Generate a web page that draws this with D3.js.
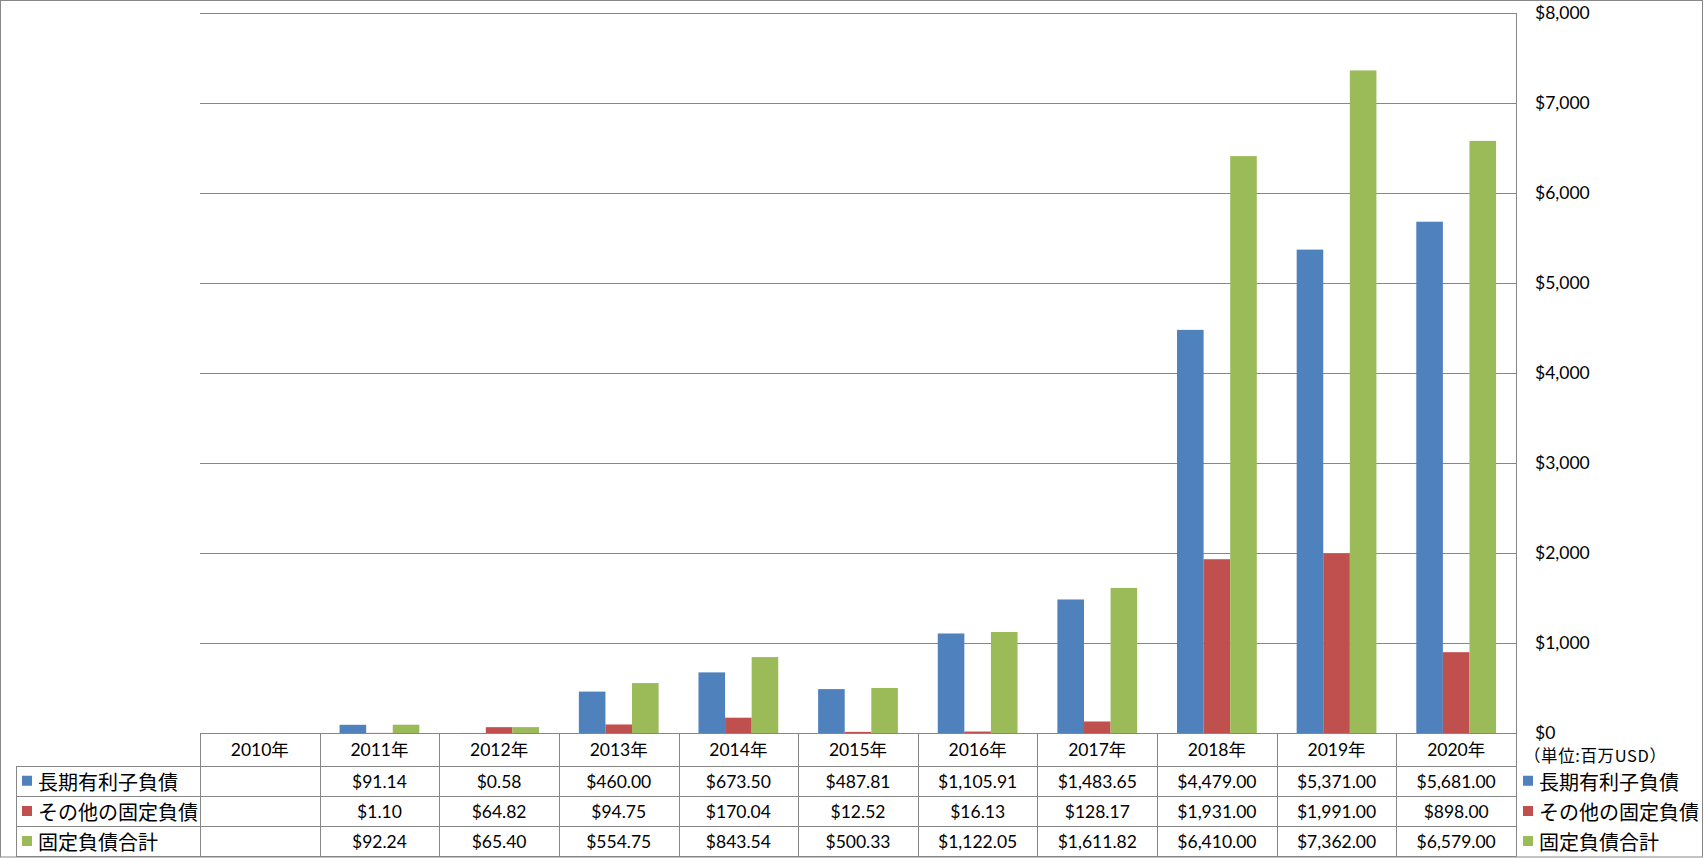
<!DOCTYPE html>
<html><head><meta charset="utf-8">
<script src="https://cdn.jsdelivr.net/npm/d3@7"></script>
<style>
html,body{margin:0;padding:0;background:#fff;}
svg{display:block;}
.num{font-family:Lato,"Noto Sans CJK JP",sans-serif;font-size:17.5px;fill:#000;}
.jp{font-family:"Noto Sans CJK JP",sans-serif;font-size:20px;fill:#000;}
</style>
</head><body>
<script>
const categories = ["2010年","2011年","2012年","2013年","2014年","2015年","2016年","2017年","2018年","2019年","2020年"];
const seriesNames = ["長期有利子負債","その他の固定負債","固定負債合計"];
const longTermDebt = [null, 91.14, 0.58, 460.00, 673.50, 487.81, 1105.91, 1483.65, 4479.00, 5371.00, 5681.00];
const otherFixed   = [null, 1.10, 64.82, 94.75, 170.04, 12.52, 16.13, 128.17, 1931.00, 1991.00, 898.00];
const totalFixed   = [null, 92.24, 65.40, 554.75, 843.54, 500.33, 1122.05, 1611.82, 6410.00, 7362.00, 6579.00];
const yTicks = [0,1000,2000,3000,4000,5000,6000,7000,8000];
const unitLabel = "（単位:百万USD）";
const colors = ["#4F81BD","#C0504D","#9BBB59"];

const series = [longTermDebt, otherFixed, totalFixed];
const W = 1704, H = 858;
const plotL = 200, plotR = 1516, plotT = 13, plotB = 733;
const rowLines = [733, 765.5, 796, 826, 856];
const gridColor = "#878787";

const svg = d3.select("body").append("svg").attr("width", W).attr("height", H);

const x = d3.scaleBand().domain(categories).range([plotL, plotR]).padding(0);
const y = d3.scaleLinear().domain([0, 8000]).range([plotB, plotT]);
const bw = x.bandwidth() / 4.5;
const xs = d3.scaleBand().domain(d3.range(3)).range([bw*0.75, x.bandwidth() - bw*0.75]).padding(0);

// outer border
svg.append("rect").attr("x",0.5).attr("y",0.5).attr("width",W-2).attr("height",H-1.5)
  .attr("fill","none").attr("stroke",gridColor).attr("stroke-width",1);

// gridlines
svg.append("g").selectAll("line").data(yTicks).join("line")
  .attr("x1", plotL).attr("x2", plotR + 0.5)
  .attr("y1", d => Math.round(y(d)) + 0.5).attr("y2", d => Math.round(y(d)) + 0.5)
  .attr("stroke", gridColor).attr("stroke-width", 1);

// bars
const flat = [];
categories.forEach((c, i) => series.forEach((s, k) => { if (s[i] != null) flat.push({c, k, v: s[i]}); }));
svg.append("g").selectAll("rect").data(flat).join("rect")
  .attr("x", d => x(d.c) + xs(d.k))
  .attr("width", xs.bandwidth())
  .attr("y", d => y(d.v))
  .attr("height", d => plotB - y(d.v))
  .attr("fill", d => colors[d.k]);

// right axis vertical line
svg.append("line").attr("x1", plotR + 0.5).attr("x2", plotR + 0.5)
  .attr("y1", plotT).attr("y2", rowLines[4] + 0.5)
  .attr("stroke", gridColor).attr("stroke-width", 1);

// right axis labels
const yAxis = d3.axisRight(y).tickValues(yTicks).tickFormat(d3.format("$,")).tickSize(0).tickPadding(19);
const ag = svg.append("g").attr("transform", `translate(${plotR},0)`).call(yAxis);
ag.select(".domain").remove();
ag.selectAll("text").attr("class","num").attr("font-family", null).attr("font-size", null).attr("fill","#000");

// table
const tg = svg.append("g");
tg.selectAll("line.h").data(rowLines.slice(1)).join("line")
  .attr("x1", 16).attr("x2", plotR + 0.5)
  .attr("y1", d => Math.round(d) + 0.5).attr("y2", d => Math.round(d) + 0.5)
  .attr("stroke", gridColor).attr("stroke-width", 1);
const bounds = categories.map(c => x(c));
tg.selectAll("line.v").data(bounds).join("line")
  .attr("x1", d => Math.round(d) + 0.5).attr("x2", d => Math.round(d) + 0.5)
  .attr("y1", plotB).attr("y2", rowLines[4] + 0.5)
  .attr("stroke", gridColor).attr("stroke-width", 1);
tg.append("line").attr("x1", 16.5).attr("x2", 16.5)
  .attr("y1", Math.round(rowLines[1]) + 0.5).attr("y2", rowLines[4] + 0.5)
  .attr("stroke", gridColor).attr("stroke-width", 1);

tg.selectAll("text.cat").data(categories).join("text")
  .attr("class","num")
  .attr("x", d => x(d) + x.bandwidth()/2)
  .attr("y", (rowLines[0] + rowLines[1]) / 2)
  .attr("text-anchor","middle").attr("dominant-baseline","central")
  .text(d => d);

const fmt = d3.format("$,.2f");
series.forEach((s, k) => {
  const cy = (rowLines[k+1] + rowLines[k+2]) / 2 + 0.5;
  tg.append("g").selectAll("text").data(categories.map((c,i) => ({c, v: s[i]})).filter(d => d.v != null)).join("text")
    .attr("class","num")
    .attr("x", d => x(d.c) + x.bandwidth()/2)
    .attr("y", cy)
    .attr("text-anchor","middle").attr("dominant-baseline","central")
    .text(d => fmt(d.v));
  tg.append("rect").attr("x", 22).attr("y", cy - 5.5).attr("width", 10).attr("height", 10).attr("fill", colors[k]);
  tg.append("text").attr("class","jp").attr("x", 38).attr("y", cy).attr("dominant-baseline","central").text(seriesNames[k]);
  tg.append("rect").attr("x", 1523).attr("y", cy - 5.5).attr("width", 10).attr("height", 10).attr("fill", colors[k]);
  tg.append("text").attr("class","jp").attr("x", 1539).attr("y", cy).attr("dominant-baseline","central").text(seriesNames[k]);
});

// unit label
svg.append("text").attr("x", 1524).attr("y", 755)
  .attr("dominant-baseline","central")
  .style("font-family","\"Noto Sans CJK JP\",sans-serif").style("font-size","16.5px").style("letter-spacing","0.6px").attr("fill","#000")
  .text(unitLabel);
</script>
</body></html>
